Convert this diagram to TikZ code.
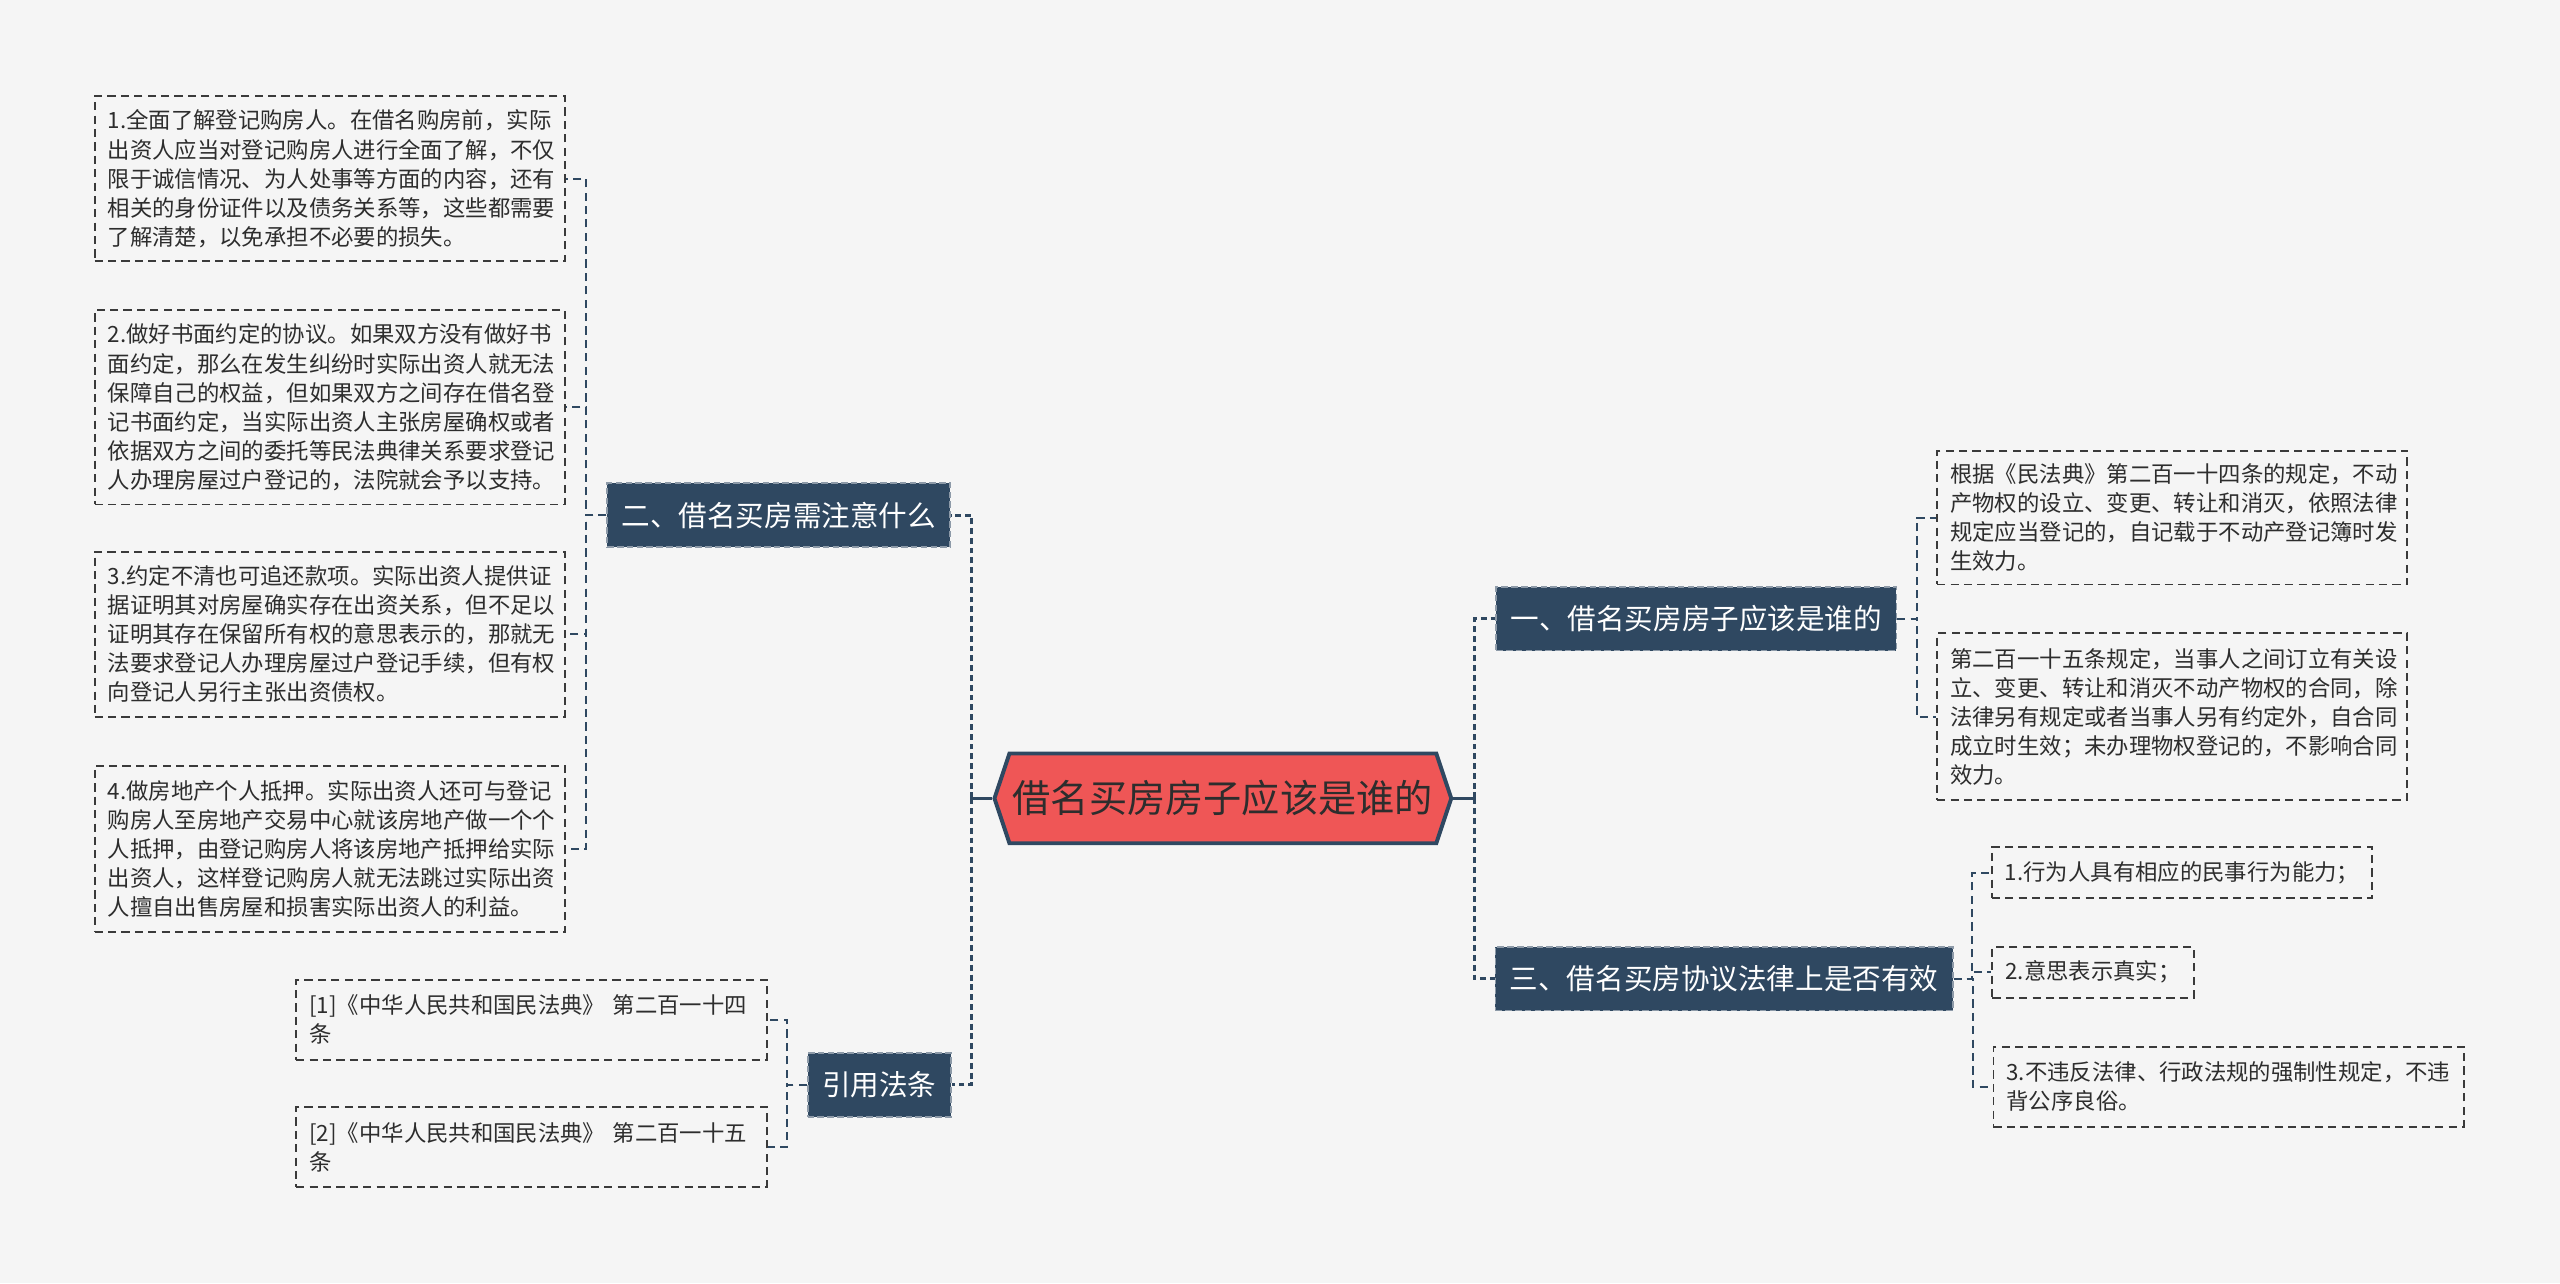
\documentclass[tikz,border=0pt]{standalone}
\usepackage{fontspec}
\setmainfont{Noto Sans CJK SC}
\usetikzlibrary{calc,shapes.symbols}

\definecolor{navy}{RGB}{47,72,97}
\definecolor{rootred}{RGB}{239,86,86}
\definecolor{bggray}{RGB}{245,245,245}
\definecolor{inkgray}{RGB}{45,45,45}
\definecolor{boxline}{RGB}{58,58,58}

\tikzset{
	rootnode/.style={signal, signal to=east and west, signal pointer angle=143,
		fill=rootred, draw=navy, line width=1.2pt, text=inkgray,
		font=\fontsize{11.7}{14}\selectfont, minimum height=27.5pt, inner xsep=1pt, inner ysep=0pt},
	mainbox/.style={fill=navy, draw=navy!55!white, line width=0.5pt, dash pattern=on 2pt off 1pt,
		text=white, font=\fontsize{8.75}{10}\selectfont, minimum height=19.5pt, inner xsep=4.4pt},
	leafbox/.style={draw=boxline, line width=0.6pt, dash pattern=on 2.5pt off 1.6pt, text=inkgray,
		align=left, font=\fontsize{6.85}{8.9}\selectfont, inner xsep=4pt, inner ysep=0pt},
	widebox/.style={leafbox, text width=136pt},
	trunk/.style={draw=navy, line width=0.9pt, dash pattern=on 1.8pt off 1.2pt},
	stem/.style={draw=navy, line width=0.9pt},
	twig/.style={draw=navy, line width=0.6pt, dash pattern=on 2.5pt off 1.6pt},
}

\begin{document}
\begin{tikzpicture}[x=0.5pt, y=-0.5pt]
	\fill[bggray] (0,0) rectangle (1568,786);
	% centre
	\node[rootnode] (root) at (749,489) {借名买房房子应该是谁的};
	% main topics
	\node[mainbox] (n1) at (1039,379) {一、借名买房房子应该是谁的};
	\node[mainbox] (n2) at (477,315.5) {二、借名买房需注意什么};
	\node[mainbox] (n3) at (1056,599.5) {三、借名买房协议法律上是否有效};
	\node[mainbox] (n4) at (538.5,664.5) {引用法条};
	% left leaves
	\node[widebox, minimum height=50.5pt] (L1) at (202,109.5) {1.全面了解登记购房人。在借名购房前，实际\\
		出资人应当对登记购房人进行全面了解，不仅\\
		限于诚信情况、为人处事等方面的内容，还有\\
		相关的身份证件以及债务关系等，这些都需要\\
		了解清楚，以免承担不必要的损失。};
	\node[widebox, minimum height=59.5pt] (L2) at (202,249.5) {2.做好书面约定的协议。如果双方没有做好书\\
		面约定，那么在发生纠纷时实际出资人就无法\\
		保障自己的权益，但如果双方之间存在借名登\\
		记书面约定，当实际出资人主张房屋确权或者\\
		依据双方之间的委托等民法典律关系要求登记\\
		人办理房屋过户登记的，法院就会予以支持。};
	\node[widebox, minimum height=50.5pt] (L3) at (202,388.5) {3.约定不清也可追还款项。实际出资人提供证\\
		据证明其对房屋确实存在出资关系，但不足以\\
		证明其存在保留所有权的意思表示的，那就无\\
		法要求登记人办理房屋过户登记手续，但有权\\
		向登记人另行主张出资债权。};
	\node[widebox, minimum height=51pt] (L4) at (202,520) {4.做房地产个人抵押。实际出资人还可与登记\\
		购房人至房地产交易中心就该房地产做一个个\\
		人抵押，由登记购房人将该房地产抵押给实际\\
		出资人，这样登记购房人就无法跳过实际出资\\
		人擅自出售房屋和损害实际出资人的利益。};
	% cited articles
	\node[widebox, minimum height=24.5pt] (C1) at (325.5,624.5) {[1]《中华人民共和国民法典》 第二百一十四\\条};
	\node[widebox, minimum height=24.5pt] (C2) at (325.5,702.5) {[2]《中华人民共和国民法典》 第二百一十五\\条};
	% right leaves
	\node[widebox, minimum height=41pt] (R1) at (1330.5,317) {根据《民法典》第二百一十四条的规定，不动\\
		产物权的设立、变更、转让和消灭，依照法律\\
		规定应当登记的，自记载于不动产登记簿时发\\
		生效力。};
	\node[widebox, minimum height=51pt] (R2) at (1330.5,439) {第二百一十五条规定，当事人之间订立有关设\\
		立、变更、转让和消灭不动产物权的合同，除\\
		法律另有规定或者当事人另有约定外，自合同\\
		成立时生效；未办理物权登记的，不影响合同\\
		效力。};
	\node[leafbox, minimum height=15.5pt] (R3) at (1336.5,534.5) {1.行为人具有相应的民事行为能力；};
	\node[leafbox, minimum height=15.5pt] (R4) at (1282,595.5) {2.意思表示真实；};
	\node[widebox, minimum height=24.5pt] (R5) at (1365,665.5) {3.不违反法律、行政法规的强制性规定，不违\\背公序良俗。};
	% centre to topics
	\coordinate (hubL) at ($(root.west)!.5!(n2.east)$);
	\coordinate (hubR) at ($(root.east)!.5!(n1.west)$);
	\draw[stem] (root.west) -- (root.west -| hubL);
	\draw[trunk] (root.west -| hubL) |- (n2.east);
	\draw[trunk] (root.west -| hubL) |- (n4.east);
	\draw[stem] (root.east) -- (root.east -| hubR);
	\draw[trunk] (root.east -| hubR) |- (n1.west);
	\draw[trunk] (root.east -| hubR) |- (n3.west);
	% topics to leaves
	\draw[twig] (n2.west) -| ($(n2.west)!.5!(L1.east)$) |- (L1.east);
	\draw[twig] (n2.west) -| ($(n2.west)!.5!(L2.east)$) |- (L2.east);
	\draw[twig] (n2.west) -| ($(n2.west)!.5!(L3.east)$) |- (L3.east);
	\draw[twig] (n2.west) -| ($(n2.west)!.5!(L4.east)$) |- (L4.east);
	\draw[twig] (n4.west) -| ($(n4.west)!.5!(C1.east)$) |- (C1.east);
	\draw[twig] (n4.west) -| ($(n4.west)!.5!(C2.east)$) |- (C2.east);
	\draw[twig] (n1.east) -| ($(n1.east)!.5!(R1.west)$) |- (R1.west);
	\draw[twig] (n1.east) -| ($(n1.east)!.5!(R2.west)$) |- (R2.west);
	\draw[twig] (n3.east) -| ($(n3.east)!.5!(R3.west)$) |- (R3.west);
	\draw[twig] (n3.east) -| ($(n3.east)!.5!(R4.west)$) |- (R4.west);
	\draw[twig] (n3.east) -| ($(n3.east)!.5!(R5.west)$) |- (R5.west);
\end{tikzpicture}
\end{document}
